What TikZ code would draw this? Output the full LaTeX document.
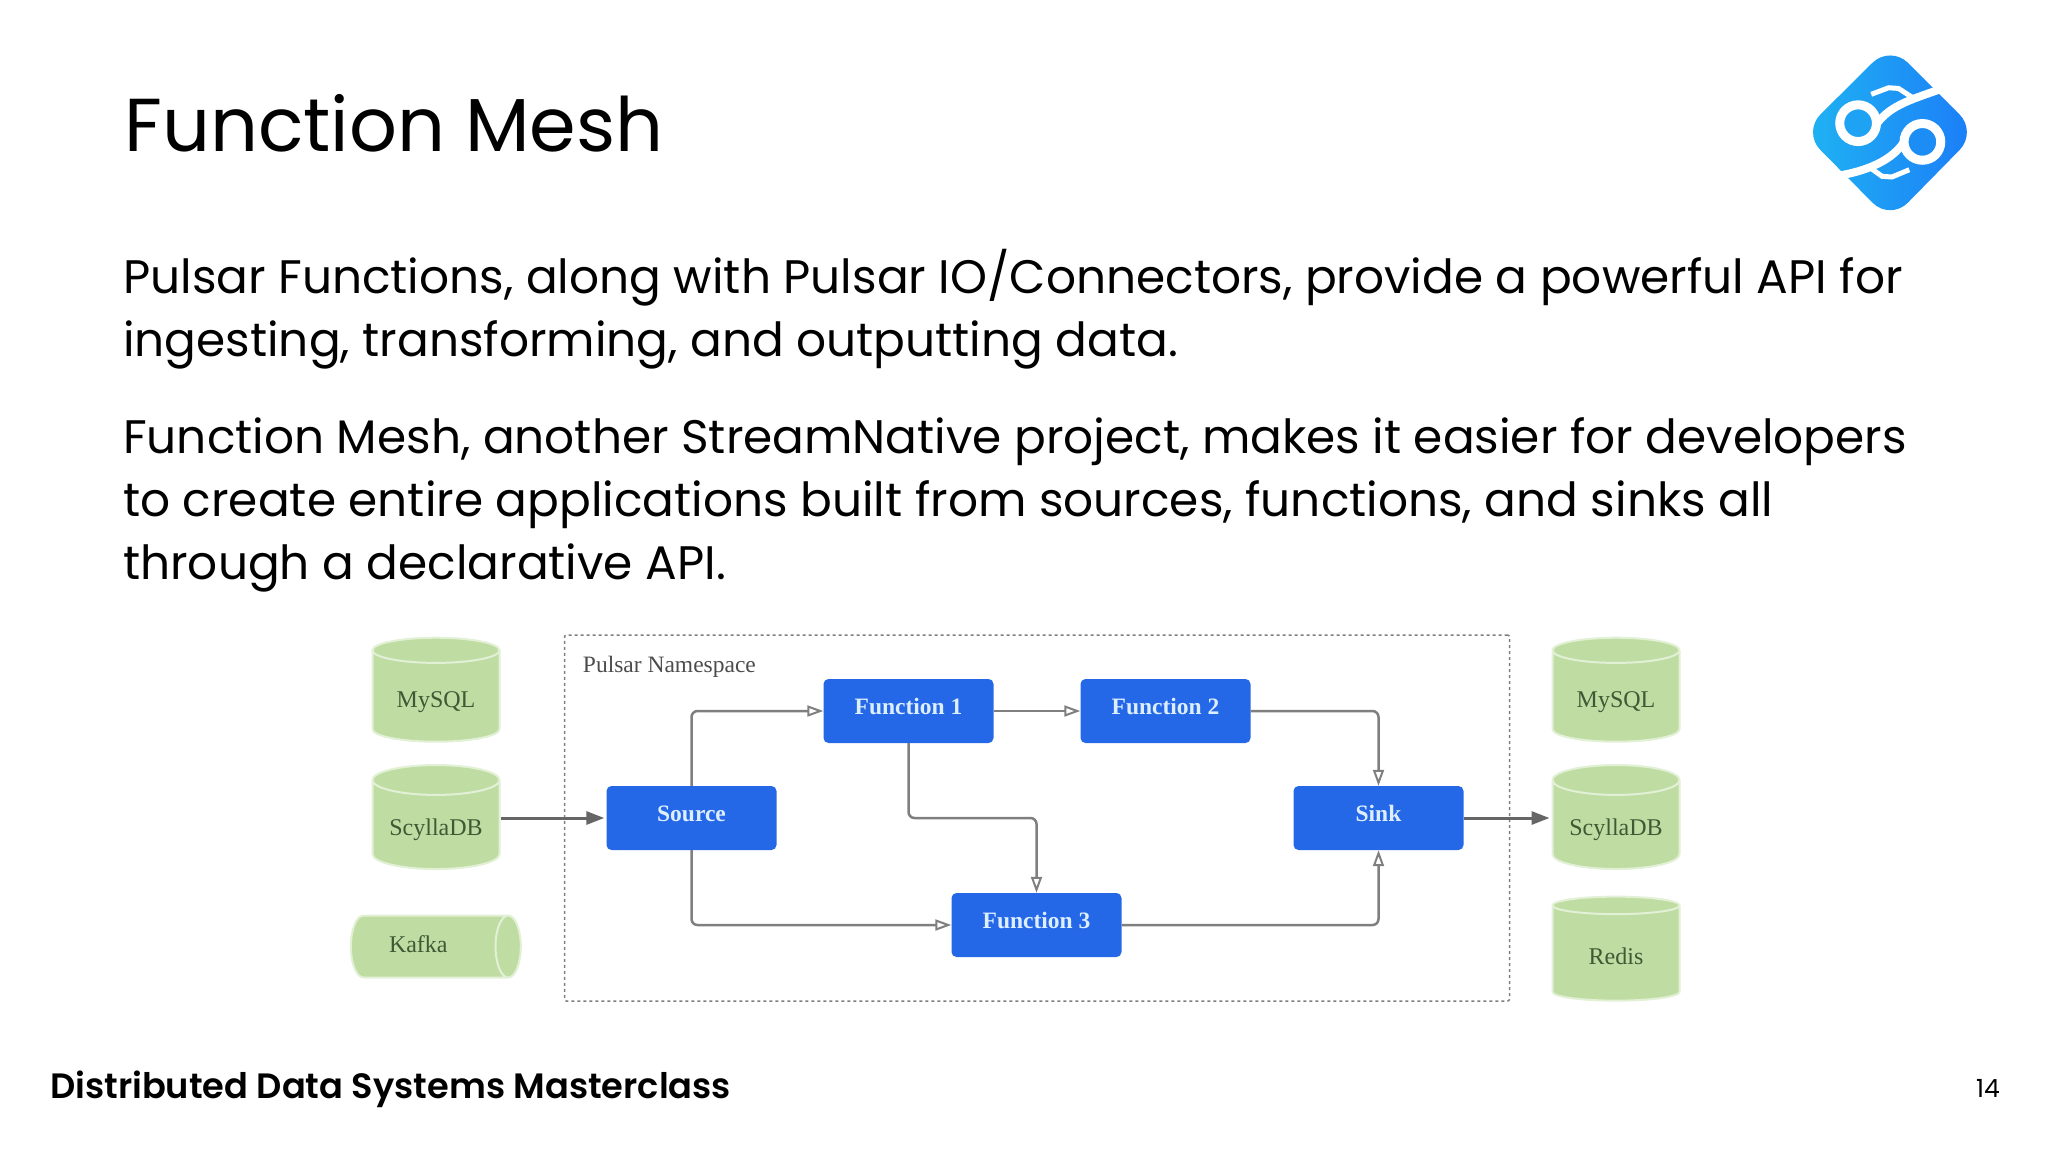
\documentclass[tikz,border=0pt]{standalone}
\usepackage{fontspec}
\setmainfont{Poppins}
\newfontfamily\figfont{Liberation Serif}
\newfontfamily\footfont{Poppins SemiBold}
\usetikzlibrary{arrows.meta,shapes.geometric}
\definecolor{boxblue}{HTML}{2468E8}
\definecolor{boxtext}{HTML}{DCEEFF}
\definecolor{dbgreen}{HTML}{BFDDA3}
\definecolor{dbrim}{HTML}{E2F0D6}
\definecolor{dbtext}{HTML}{3D5A35}
\definecolor{flowgray}{HTML}{7F7F7F}
\definecolor{feedgray}{HTML}{666666}
\definecolor{logoleft}{HTML}{1FB4F2}
\definecolor{logoright}{HTML}{1C7CF8}

\begin{document}
\begin{tikzpicture}[x=1pt,y=-1pt,node distance=107pt,
    fn box/.style={rectangle,rounded corners=5pt,fill=boxblue,minimum width=170pt,minimum height=64pt,
                   inner sep=0pt,text height=16pt,text depth=9pt,text=boxtext,font=\figfont\fontsize{23.5}{26}\selectfont\bfseries},
    db/.style={cylinder,shape border rotate=90,aspect=0.32,draw=dbrim,line width=2pt,
               cylinder uses custom fill,cylinder body fill=dbgreen,cylinder end fill=dbgreen,
               minimum width=127pt,minimum height=104pt,inner sep=0pt,text height=27.5pt,text depth=6pt,
               text=dbtext,font=\figfont\fontsize{24}{26}\selectfont},
    flow/.style={draw=flowgray,line width=2.5pt,rounded corners=6pt,-{Triangle[open,length=16pt,width=11pt,line width=2pt]}},
    feed/.style={draw=feedgray,line width=3pt,shorten >=2pt,-{Triangle[length=18pt,width=13pt]}},
    headline/.style={anchor=base west,inner sep=0pt,font=\fontsize{75}{84}\selectfont},
    bodyline/.style={anchor=base west,inner sep=0pt,font=\fontsize{47}{56}\selectfont}]
\useasboundingbox (0,0) rectangle (2048,1152);

% Create text of the slide
\node[headline] (title) at (124,151) {Function Mesh};
\node[bodyline] (l1) at (123,293) {Pulsar Functions, along with Pulsar IO/Connectors, provide a powerful API for};
\node[bodyline] (l2) at (123,356) {ingesting, transforming, and outputting data.};
\node[bodyline] (l3) at (123,453) {Function Mesh, another StreamNative project, makes it easier for developers};
\node[bodyline] (l4) at (123,516) {to create entire applications built from sources, functions, and sinks all};
\node[bodyline] (l5) at (123,579) {through a declarative API.};
\node[anchor=base west,inner sep=0pt,font=\footfont\fontsize{35.2}{40}\selectfont] (footer) at (50,1098) {Distributed Data Systems Masterclass};
\node[anchor=base east,inner sep=0pt,font=\fontsize{25}{28}\selectfont] (page) at (2000,1097) {14};

% Create the logo
\begin{scope}[shift={(1782,32)},x=0.328pt,y=-0.328pt]
\path[left color=logoleft,right color=logoright,rounded corners=25pt]
  (330,40) -- (595,305) -- (330,575) -- (63,305) -- cycle;
\draw[white,line width=8pt] (500,168) .. controls (400,205) and (330,220) .. (285,285);
\draw[white,line width=8pt] (160,440) .. controls (260,425) and (340,390) .. (375,330);
\draw[white,line width=5pt] (272,190) -- (325,170) -- (355,172) -- (395,198);
\draw[white,line width=5pt] (388,420) -- (335,442) -- (305,440) -- (270,415);
\draw[white,line width=9pt,fill=logoleft!70!logoright] (232,278) circle (56);
\draw[white,line width=9pt,fill=logoleft!30!logoright] (428,335) circle (56);
\end{scope}

% Create nodes for the graph
\node[fn box] (source) at (691.5,818) {Source};
\node[fn box] (f1) [above of=source,xshift=217pt] {Function 1};
\node[fn box] (f2) [right of=f1,node distance=257pt] {Function 2};
\node[fn box] (f3) [below of=source,xshift=345pt] {Function 3};
\node[fn box] (sink) [right of=source,node distance=687pt] {Sink};
\node[draw=flowgray,dashed,line width=1.5pt,rounded corners=2pt,minimum width=945pt,minimum height=366pt,
      right of=source,node distance=345.5pt] (namespace) {};
\node[anchor=north west,inner sep=0pt,text=black!70,font=\figfont\fontsize{23.5}{26}\selectfont]
  (nslabel) at ([xshift=19pt,yshift=-22pt]namespace.north west) {Pulsar Namespace};

\node[db] (scylla in) at (436,825) {ScyllaDB};
\node[db] (mysql in) [above of=scylla in,node distance=128.5pt] {MySQL};
\node[db,shape border rotate=0,aspect=1.1,minimum width=62pt,minimum height=170pt,
      text height=17pt,text depth=6pt,text width=80pt,align=left] (kafka) [below of=scylla in,node distance=121.5pt,xshift=-7pt] {Kafka};
\node[db] (scylla out) at (1616,825) {ScyllaDB};
\node[db] (mysql out) [above of=scylla out,node distance=128.5pt] {MySQL};
\node[db] (redis) [below of=scylla out,node distance=128.5pt] {Redis};

% Create edges for the graph
\coordinate (drop) at (f3.north |- source.east);
\coordinate (feed in) at (scylla in.east |- source.west);
\coordinate (feed out) at (scylla out.west |- sink.east);
\draw[flow] (source.north) |- (f1.west);
\draw[flow] (source.south) |- (f3.west);
\draw[flow] (f1.east) -- (f2.west);
\draw[flow] (f1.south) |- (drop) -- (f3.north);
\draw[flow] (f2.east) -| (sink.north);
\draw[flow] (f3.east) -| (sink.south);
\draw[feed] (feed in) -- (source.west);
\draw[feed] (sink.east) -- (feed out);
\end{tikzpicture}
\end{document}
